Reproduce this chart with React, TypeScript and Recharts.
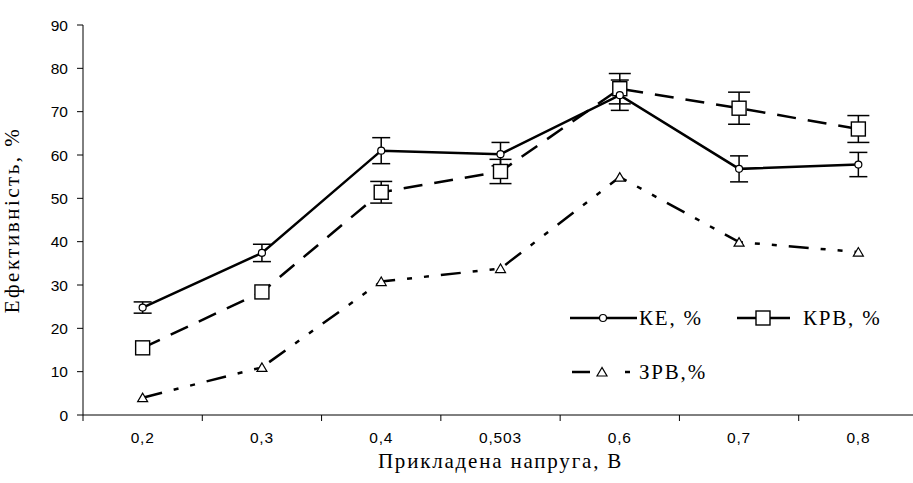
import React from 'react';
import { ComposedChart, Line, XAxis, YAxis, ErrorBar, Legend } from 'recharts';

const categories = ['0,2', '0,3', '0,4', '0,503', '0,6', '0,7', '0,8'];
const keValues = [24.8, 37.4, 61, 60.2, 73.8, 56.8, 57.8];
const keErrors = [1.3, 2, 3, 2.7, 3.5, 3, 2.8];
const krbValues = [15.5, 28.4, 51.4, 56.2, 75.3, 70.8, 66];
const krbErrors = [0, 0, 2.5, 2.8, 3.5, 3.7, 3.1];
const zrvValues = [4, 11, 30.8, 33.8, 54.9, 39.9, 37.6];
const yTicks = [0, 10, 20, 30, 40, 50, 60, 70, 80, 90];

// category i is centred at i + 0.5; ticks at integers mark category boundaries
const data = categories.map((c, i) => ({
  xi: i + 0.5,
  cat: c,
  ke: keValues[i],
  keErr: keErrors[i],
  krb: krbValues[i],
  krbErr: krbErrors[i],
  zrv: zrvValues[i],
}));
const xTicks: number[] = [];
for (let i = 0; i <= categories.length; i++) {
  xTicks.push(i);
  if (i < categories.length) xTicks.push(i + 0.5);
}

const SERIF = '"Liberation Serif", "Times New Roman", serif';
const SANS = '"Liberation Sans", Arial, sans-serif';

const XTick = (props: any) => {
  const { x, y, payload } = props;
  const v = payload.value;
  if (Number.isInteger(v)) {
    return <line x1={x} y1={y} x2={x} y2={y + 6} stroke="#000" strokeWidth={1} />;
  }
  const label = categories[Math.floor(v)];
  return (
    <text x={x} y={y + 28} textAnchor="middle" fill="#000" fontFamily={SANS} fontSize={15.5} letterSpacing={0.8}>
      {label}
    </text>
  );
};

const CircleDot = (props: any) => {
  const { cx, cy, index } = props;
  if (cx == null || cy == null) return null;
  return <circle key={`c${index}`} cx={cx} cy={cy} r={3.5} fill="#fff" stroke="#000" strokeWidth={1.2} />;
};
const SquareDot = (props: any) => {
  const { cx, cy, index } = props;
  if (cx == null || cy == null) return null;
  return <rect key={`s${index}`} x={cx - 7} y={cy - 7} width={14} height={14} fill="#fff" stroke="#000" strokeWidth={1.4} />;
};
const TriDot = (props: any) => {
  const { cx, cy, index } = props;
  if (cx == null || cy == null) return null;
  return (
    <path
      key={`t${index}`}
      d={`M${cx},${cy - 4.5} L${cx - 5},${cy + 4} L${cx + 5},${cy + 4} Z`}
      fill="#fff"
      stroke="#000"
      strokeWidth={1.2}
    />
  );
};

const LegendContent = () => (
  <svg width={350} height={100} style={{ display: 'block' }}>
    <line x1={10} y1={28} x2={77} y2={28} stroke="#000" strokeWidth={2.5} />
    <circle cx={43} cy={28} r={3.5} fill="#fff" stroke="#000" strokeWidth={1.2} />
    <text x={79} y={35} fontFamily={SERIF} fontSize={21} letterSpacing={1.8} fill="#000">КЕ, %</text>
    <line x1={177} y1={28} x2={230} y2={28} stroke="#000" strokeWidth={2.5} />
    <rect x={196} y={21} width={14} height={14} fill="#fff" stroke="#000" strokeWidth={1.4} />
    <text x={243} y={35} fontFamily={SERIF} fontSize={21} letterSpacing={1.8} fill="#000">КРВ, %</text>
    <line x1={12} y1={82} x2={70} y2={82} stroke="#000" strokeWidth={2.5} strokeDasharray="18 35 5 100" />
    <path d="M42,77.5 L37,86 L47,86 Z" fill="#fff" stroke="#000" strokeWidth={1.2} />
    <text x={79} y={89} fontFamily={SERIF} fontSize={21} letterSpacing={1.8} fill="#000">ЗРВ,%</text>
  </svg>
);

export default function App() {
  return (
    <div
      style={{
        position: 'fixed',
        left: 0,
        top: 0,
        width: 913,
        height: 483,
        overflow: 'hidden',
        background: '#fff',
      }}
    >
      <ComposedChart
        width={920}
        height={483}
        data={data}
        margin={{ top: 25, right: 2, left: 0, bottom: 38 }}
      >
        <XAxis
          dataKey="xi"
          type="number"
          domain={[0, categories.length]}
          ticks={xTicks}
          interval={0}
          height={30}
          axisLine={{ stroke: '#000', strokeWidth: 1 }}
          tickLine={false}
          tickSize={0}
          tickMargin={0}
          tick={XTick}
          label={{
            value: 'Прикладена напруга, В',
            position: 'bottom',
            offset: 8,
            style: { fill: '#000', fontFamily: SERIF, fontSize: 21, letterSpacing: 1.8, textAnchor: 'middle' },
          }}
        />
        <YAxis
          type="number"
          domain={[0, 90]}
          ticks={yTicks}
          width={83}
          axisLine={{ stroke: '#000', strokeWidth: 1 }}
          tickLine={{ stroke: '#000', strokeWidth: 1 }}
          tickSize={6}
          tickMargin={9}
          interval={0}
          tick={{ fill: '#000', fontFamily: SANS, fontSize: 15.5 }}
          label={{
            value: 'Ефективність, %',
            angle: -90,
            position: 'insideLeft',
            offset: 12,
            style: { fill: '#000', fontFamily: SERIF, fontSize: 21, letterSpacing: 2.5, textAnchor: 'middle' },
          }}
        />
        <Legend
          layout="horizontal"
          verticalAlign="middle"
          align="center"
          wrapperStyle={{ position: 'absolute', left: 560, top: 290, width: 350, height: 100 }}
          content={LegendContent}
        />
        <Line
          dataKey="krb"
          stroke="#000"
          strokeWidth={2.5}
          strokeDasharray="19 12"
          dot={SquareDot}
          activeDot={false}
          isAnimationActive={false}
        >
          <ErrorBar dataKey="krbErr" width={11} stroke="#000" strokeWidth={1.5} direction="y" />
        </Line>
        <Line
          dataKey="zrv"
          stroke="#000"
          strokeWidth={2.5}
          strokeDasharray="20 12 5 12 5 12"
          dot={TriDot}
          activeDot={false}
          isAnimationActive={false}
        />
        <Line
          dataKey="ke"
          stroke="#000"
          strokeWidth={2.5}
          dot={CircleDot}
          activeDot={false}
          isAnimationActive={false}
        >
          <ErrorBar dataKey="keErr" width={9} stroke="#000" strokeWidth={1.5} direction="y" />
        </Line>
      </ComposedChart>
    </div>
  );
}
